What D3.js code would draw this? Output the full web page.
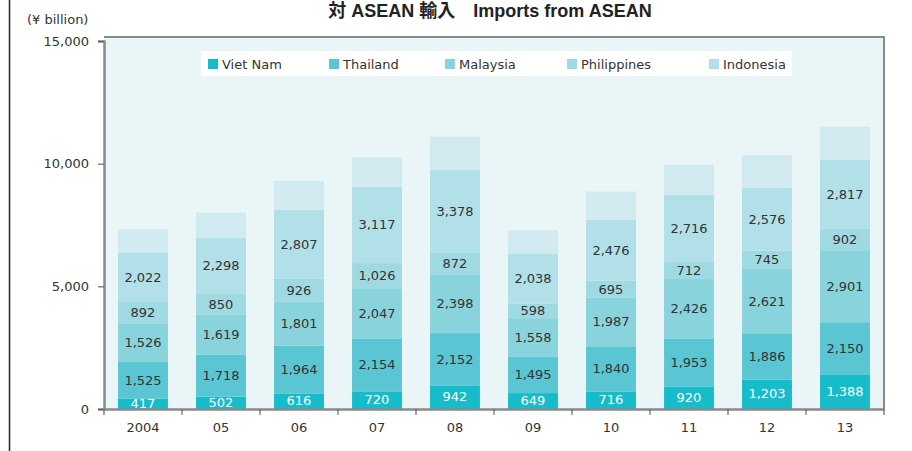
<!DOCTYPE html>
<html><head><meta charset="utf-8">
<script src="https://cdn.jsdelivr.net/npm/d3@7"></script>
<style>
html,body{margin:0;padding:0;background:#fff;}
svg{display:block;}
</style></head>
<body>
<script>
const years = ["2004","05","06","07","08","09","10","11","12","13"];
const vietNam     = [417, 502, 616, 720, 942, 649, 716, 920, 1203, 1388];
const thailand    = [1525, 1718, 1964, 2154, 2152, 1495, 1840, 1953, 1886, 2150];
const malaysia    = [1526, 1619, 1801, 2047, 2398, 1558, 1987, 2426, 2621, 2901];
const philippines = [892, 850, 926, 1026, 872, 598, 695, 712, 745, 902];
const indonesia   = [2022, 2298, 2807, 3117, 3378, 2038, 2476, 2716, 2576, 2817];
const others      = [945, 1020, 1190, 1190, 1350, 940, 1150, 1230, 1310, 1350];
const seriesNames = ["Viet Nam","Thailand","Malaysia","Philippines","Indonesia","Others"];
const legendNames = ["Viet Nam","Thailand","Malaysia","Philippines","Indonesia"];
const yTicks = [0, 5000, 10000, 15000];

const colors = ["#17bccb","#5bc6d3","#89d3dc","#9fd9e2","#b2e0e8","#d0eaef"];
const seriesVals = [vietNam, thailand, malaysia, philippines, indonesia, others];

const W = 912, H = 451;
const L = 104, R = 884, T = 37, B = 409;
const FONT = "'DejaVu Sans', Verdana, sans-serif";

const svg = d3.select("body").append("svg").attr("width", W).attr("height", H);

// left decorative line
svg.append("line").attr("x1",9.5).attr("x2",9.5).attr("y1",0).attr("y2",H)
  .attr("stroke","#222").attr("stroke-width",1.5);

// title
svg.append("text").attr("x",490).attr("y",17).attr("text-anchor","middle")
  .attr("font-family","'Liberation Sans', Arial, 'Noto Sans CJK JP', sans-serif")
  .attr("font-weight","bold").attr("font-size",18).attr("fill","#222")
  .text("対 ASEAN 輸入\u3000Imports from ASEAN");

// unit
svg.append("text").attr("x",27).attr("y",24)
  .attr("font-family",FONT).attr("font-size",13).attr("fill","#333")
  .text("(¥ billion)");

// plot background
svg.append("rect").attr("x",L).attr("y",T).attr("width",R-L).attr("height",B-T)
  .attr("fill","#eaf5f8");

const x = d3.scaleBand().domain(years).range([L,R]).paddingInner(0.36).paddingOuter(0.18);
const y = d3.scaleLinear().domain([0,15000]).range([B,41]);

const data = years.map((yr,i)=>{
  const o = {year: yr};
  seriesNames.forEach((s,k)=>{ o[s] = seriesVals[k][i]; });
  return o;
});
const stack = d3.stack().keys(seriesNames)(data);

const g = svg.append("g");
stack.forEach((layer,k)=>{
  g.append("g").selectAll("rect").data(layer).join("rect")
    .attr("x", d=>x(d.data.year))
    .attr("width", x.bandwidth())
    .attr("y", d=>y(d[1]))
    .attr("height", d=>y(d[0])-y(d[1]))
    .attr("fill", colors[k]);
});

// segment labels (exclude Others)
const fmt = d3.format(",");
stack.slice(0,5).forEach((layer,k)=>{
  g.append("g").selectAll("text").data(layer).join("text")
    .attr("x", d=>x(d.data.year)+x.bandwidth()/2)
    .attr("y", d=>(y(d[0])+y(d[1]))/2 + (k===0 ? -0.5 : 0))
    .attr("text-anchor","middle").attr("dominant-baseline","central")
    .attr("font-family",FONT).attr("font-size",13)
    .attr("fill", k===0 ? "#ffffff" : "#333")
    .text(d=>fmt(d[1]-d[0]));
});

// frame (top/right)
svg.append("path").attr("d",`M${L},${T}H${R}V${B}`)
  .attr("fill","none").attr("stroke","#8a8a8a").attr("stroke-width",2);

// y axis
const yAxis = svg.append("g").attr("transform",`translate(${L},0)`)
  .call(d3.axisLeft(y).tickValues(yTicks).tickFormat(fmt).tickSize(6).tickPadding(9));
yAxis.select(".domain").attr("stroke","#8a8a8a").attr("stroke-width",2.5);
yAxis.selectAll(".tick line").attr("stroke","#666").attr("stroke-width",1.2);
yAxis.selectAll(".tick text").attr("font-family",FONT).attr("font-size",13).attr("fill","#333");

// x axis
const xAxis = svg.append("g").attr("transform",`translate(0,${B})`)
  .call(d3.axisBottom(x).tickSize(0).tickPadding(14));
xAxis.select(".domain").attr("stroke","#8a8a8a").attr("stroke-width",2.5);
xAxis.selectAll(".tick text").attr("font-family",FONT).attr("font-size",13).attr("fill","#333");
// boundary ticks
const step = x.step();
const bounds = years.map(yr=>x(yr) - step*x.paddingOuter()).concat([R]);
svg.append("g").selectAll("line").data(bounds).join("line")
  .attr("x1",d=>d).attr("x2",d=>d).attr("y1",B).attr("y2",B+6)
  .attr("stroke","#666").attr("stroke-width",1.2);

// legend
const lg = svg.append("g");
lg.append("rect").attr("x",201).attr("y",51).attr("width",591).attr("height",25).attr("fill","#fff");
const legX = [208, 329, 445, 567, 709];
legendNames.forEach((n,i)=>{
  lg.append("rect").attr("x",legX[i]).attr("y",59).attr("width",10).attr("height",10).attr("fill",colors[i]);
  lg.append("text").attr("x",legX[i]+14).attr("y",64).attr("dominant-baseline","central")
    .attr("font-family",FONT).attr("font-size",13).attr("fill","#333").text(n);
});
</script>
</body></html>
